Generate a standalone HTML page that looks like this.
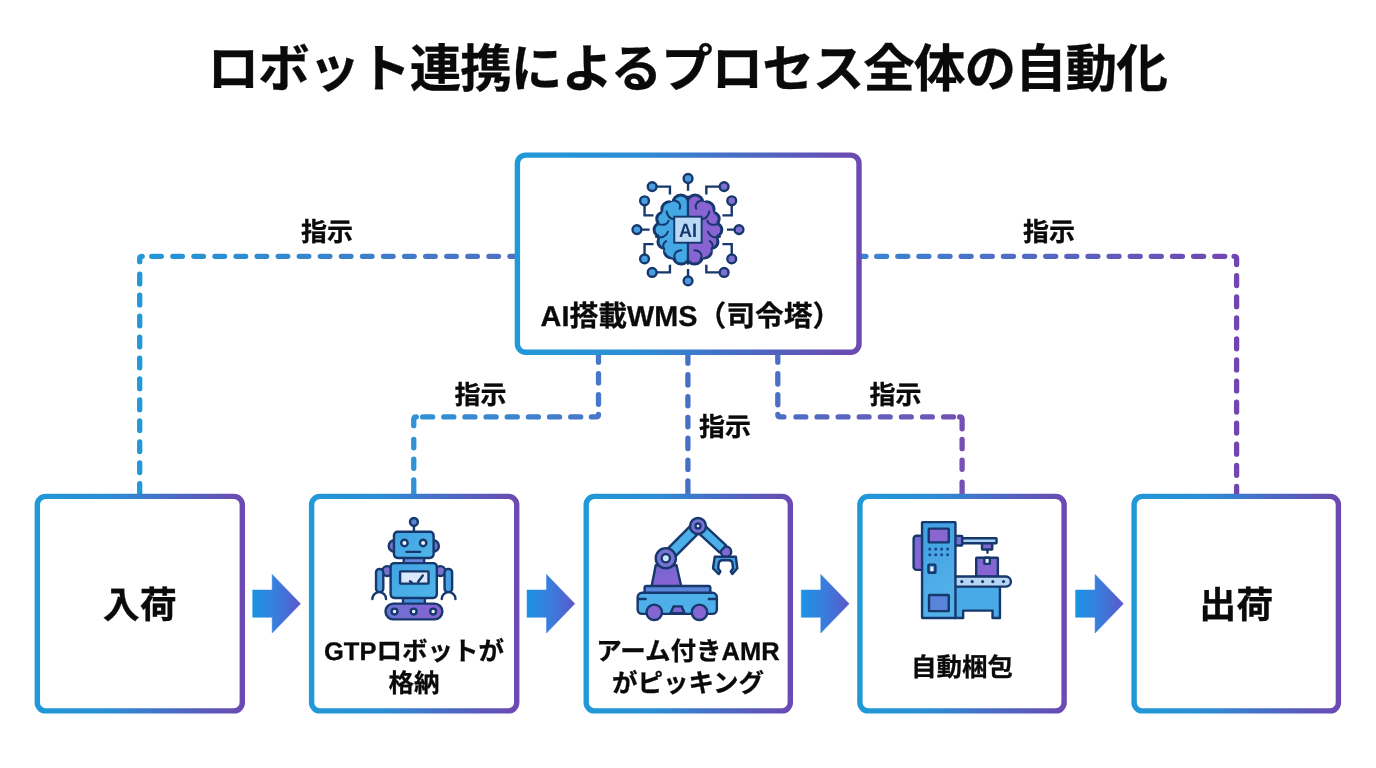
<!DOCTYPE html>
<html lang="ja">
<head>
<meta charset="utf-8">
<title>ロボット連携によるプロセス全体の自動化</title>
<style>
html,body{margin:0;padding:0;background:#ffffff;}
body{width:1376px;height:768px;overflow:hidden;font-family:"Liberation Sans", "Noto Sans CJK JP", sans-serif;}
svg{display:block;will-change:transform;}
svg text{font-family:"Liberation Sans", "Noto Sans CJK JP", sans-serif;font-weight:700;fill:#0a0a0a;stroke:#0a0a0a;stroke-width:0.3px;text-rendering:geometricPrecision;}
</style>
</head>
<body>
<svg width="1376" height="768" viewBox="0 0 1376 768">
<defs>
<linearGradient id="gl1" gradientUnits="userSpaceOnUse" x1="139.6" y1="0" x2="514" y2="0">
<stop offset="0" stop-color="#2298d6"/><stop offset="1" stop-color="#4f6fc2"/></linearGradient>
<linearGradient id="gl2" gradientUnits="userSpaceOnUse" x1="414" y1="0" x2="598.5" y2="0">
<stop offset="0" stop-color="#2f93d6"/><stop offset="1" stop-color="#4777c8"/></linearGradient>
<linearGradient id="gl3" gradientUnits="userSpaceOnUse" x1="680" y1="0" x2="696" y2="0">
<stop offset="0" stop-color="#4471c6"/><stop offset="1" stop-color="#4471c6"/></linearGradient>
<linearGradient id="gl4" gradientUnits="userSpaceOnUse" x1="778" y1="0" x2="962" y2="0">
<stop offset="0" stop-color="#4a6fc6"/><stop offset="1" stop-color="#7650b4"/></linearGradient>
<linearGradient id="gl5" gradientUnits="userSpaceOnUse" x1="861" y1="0" x2="1236.4" y2="0">
<stop offset="0" stop-color="#3a86d2"/><stop offset="1" stop-color="#7246b0"/></linearGradient>
<linearGradient id="gc" gradientUnits="userSpaceOnUse" x1="514.7" y1="0" x2="861.7" y2="0">
<stop offset="0" stop-color="#2099d7"/><stop offset="0.35" stop-color="#2c8dd6"/><stop offset="0.7" stop-color="#4e66c2"/><stop offset="1" stop-color="#6d48b2"/></linearGradient>
<linearGradient id="gb0" gradientUnits="userSpaceOnUse" x1="34.6" y1="0" x2="245.0" y2="0">
<stop offset="0" stop-color="#2099d7"/><stop offset="0.35" stop-color="#2c8dd6"/><stop offset="0.7" stop-color="#4e66c2"/><stop offset="1" stop-color="#6d48b2"/></linearGradient>
<linearGradient id="gb1" gradientUnits="userSpaceOnUse" x1="308.9" y1="0" x2="519.4" y2="0">
<stop offset="0" stop-color="#2099d7"/><stop offset="0.35" stop-color="#2c8dd6"/><stop offset="0.7" stop-color="#4e66c2"/><stop offset="1" stop-color="#6d48b2"/></linearGradient>
<linearGradient id="gb2" gradientUnits="userSpaceOnUse" x1="583.5" y1="0" x2="793.0" y2="0">
<stop offset="0" stop-color="#2099d7"/><stop offset="0.35" stop-color="#2c8dd6"/><stop offset="0.7" stop-color="#4e66c2"/><stop offset="1" stop-color="#6d48b2"/></linearGradient>
<linearGradient id="gb3" gradientUnits="userSpaceOnUse" x1="857.2" y1="0" x2="1066.8" y2="0">
<stop offset="0" stop-color="#2099d7"/><stop offset="0.35" stop-color="#2c8dd6"/><stop offset="0.7" stop-color="#4e66c2"/><stop offset="1" stop-color="#6d48b2"/></linearGradient>
<linearGradient id="gb4" gradientUnits="userSpaceOnUse" x1="1131.4" y1="0" x2="1341.1" y2="0">
<stop offset="0" stop-color="#2099d7"/><stop offset="0.35" stop-color="#2c8dd6"/><stop offset="0.7" stop-color="#4e66c2"/><stop offset="1" stop-color="#6d48b2"/></linearGradient>
<linearGradient id="ga0" gradientUnits="userSpaceOnUse" x1="252.7" y1="0" x2="300.7" y2="0">
<stop offset="0" stop-color="#1b93e4"/><stop offset="0.5" stop-color="#3a7cdc"/><stop offset="1" stop-color="#5a58c9"/></linearGradient>
<linearGradient id="ga1" gradientUnits="userSpaceOnUse" x1="527.0" y1="0" x2="575.0" y2="0">
<stop offset="0" stop-color="#1b93e4"/><stop offset="0.5" stop-color="#3a7cdc"/><stop offset="1" stop-color="#5a58c9"/></linearGradient>
<linearGradient id="ga2" gradientUnits="userSpaceOnUse" x1="801.3" y1="0" x2="849.3" y2="0">
<stop offset="0" stop-color="#1b93e4"/><stop offset="0.5" stop-color="#3a7cdc"/><stop offset="1" stop-color="#5a58c9"/></linearGradient>
<linearGradient id="ga3" gradientUnits="userSpaceOnUse" x1="1075.6000000000001" y1="0" x2="1123.6000000000001" y2="0">
<stop offset="0" stop-color="#1b93e4"/><stop offset="0.5" stop-color="#3a7cdc"/><stop offset="1" stop-color="#5a58c9"/></linearGradient>
<clipPath id="bclL"><rect x="640" y="180" width="47.95" height="100"/></clipPath>
<clipPath id="bclR"><rect x="687.95" y="180" width="60" height="100"/></clipPath>
<linearGradient id="bgL" x1="0" y1="0" x2="1" y2="1"><stop offset="0" stop-color="#55b4ea"/><stop offset="1" stop-color="#3a9ddf"/></linearGradient>
<linearGradient id="bgR" x1="0" y1="0" x2="1" y2="1"><stop offset="0" stop-color="#8068d0"/><stop offset="1" stop-color="#9463d6"/></linearGradient>
<linearGradient id="rbB" x1="0" y1="0" x2="1" y2="1"><stop offset="0" stop-color="#41a2e3"/><stop offset="1" stop-color="#50b6e8"/></linearGradient>
<linearGradient id="rbP" x1="0" y1="0" x2="1" y2="0"><stop offset="0" stop-color="#6a72d2"/><stop offset="1" stop-color="#8b62d2"/></linearGradient>
<linearGradient id="amP" x1="0" y1="0" x2="0" y2="1"><stop offset="0" stop-color="#7468d0"/><stop offset="1" stop-color="#8b62d4"/></linearGradient>
<linearGradient id="pkB" x1="0" y1="0" x2="0.3" y2="1"><stop offset="0" stop-color="#3f9fe1"/><stop offset="1" stop-color="#55b2e9"/></linearGradient>
<linearGradient id="pkP" x1="0" y1="0" x2="0" y2="1"><stop offset="0" stop-color="#7a6ad0"/><stop offset="1" stop-color="#8c62d4"/></linearGradient>
</defs>
<rect x="0" y="0" width="1376" height="768" fill="#ffffff"/>
<path d="M151.75 256.35H161.35M172.82 256.35H182.42M193.89 256.35H203.49M214.96 256.35H224.56M236.03 256.35H245.63M257.10 256.35H266.70M278.17 256.35H287.77M299.24 256.35H308.84M320.31 256.35H329.91M341.38 256.35H350.98M362.45 256.35H372.05M383.52 256.35H393.12M404.59 256.35H414.19M425.66 256.35H435.26M446.73 256.35H456.33M467.80 256.35H477.40M488.87 256.35H498.47M509.94 256.35H515.00M139.70 261.70L139.70 258.85Q139.70 256.35 142.20 256.35L142.20 256.35M139.70 274.25V283.95M139.70 295.20V304.90M139.70 316.15V325.85M139.70 337.10V346.80M139.70 358.05V367.75M139.70 379.00V388.70M139.70 399.95V409.65M139.70 420.90V430.60M139.70 441.85V451.55M139.70 462.80V472.50M139.70 483.75V495.00" stroke="url(#gl1)" stroke-width="5.3" stroke-linecap="round" stroke-linejoin="round" fill="none"/>
<path d="M598.50 355.65V362.15M598.50 373.65V382.95M598.50 394.55V404.25M598.50 414.40L598.50 414.40Q598.50 416.90 596.00 416.90L591.40 416.90M422.65 416.90H432.65M443.80 416.90H453.80M464.95 416.90H474.95M486.10 416.90H496.10M507.25 416.90H517.25M528.40 416.90H538.40M549.55 416.90H559.55M570.70 416.90H580.70M413.75 425.65L413.75 419.40Q413.75 416.90 416.25 416.90L416.25 416.90M413.75 439.35V447.75M413.75 459.15V468.35M413.75 479.95V494.35" stroke="url(#gl2)" stroke-width="5.3" stroke-linecap="round" stroke-linejoin="round" fill="none"/>
<path d="M687.90 355.65V363.15M687.90 374.75V385.05M687.90 396.61V405.85M687.90 417.45V426.75M687.90 438.25V448.60M687.90 460.15V469.45M687.90 480.95V494.35" stroke="url(#gl3)" stroke-width="5.3" stroke-linecap="round" stroke-linejoin="round" fill="none"/>
<path d="M777.80 355.65V362.15M777.80 373.65V384.05M777.80 394.55V404.85M777.80 414.40L777.80 414.40Q777.80 416.90 780.30 416.90L783.85 416.90M795.95 416.90H805.75M817.05 416.90H826.85M838.15 416.90H847.95M859.25 416.90H869.05M880.35 416.90H890.15M901.45 416.90H911.25M922.55 416.90H932.35M943.65 416.90H953.45M962.10 428.85L962.10 419.40Q962.10 416.90 959.60 416.90L959.60 416.90M962.10 439.35V448.65M962.10 460.15V469.35M962.10 482.05V494.35" stroke="url(#gl4)" stroke-width="5.3" stroke-linecap="round" stroke-linejoin="round" fill="none"/>
<path d="M860.65 256.35H865.95M876.65 256.35H886.65M897.78 256.35H907.78M918.91 256.35H928.91M940.04 256.35H950.04M961.17 256.35H971.17M982.30 256.35H992.30M1003.43 256.35H1013.43M1024.56 256.35H1034.56M1045.69 256.35H1055.69M1066.82 256.35H1076.82M1087.95 256.35H1097.95M1109.08 256.35H1119.08M1130.21 256.35H1140.21M1151.34 256.35H1161.34M1172.47 256.35H1182.47M1193.60 256.35H1203.60M1214.73 256.35H1224.73M1236.60 264.60L1236.60 258.85Q1236.60 256.35 1234.10 256.35L1234.10 256.35M1236.60 275.71V285.61M1236.60 296.78V306.68M1236.60 317.85V327.75M1236.60 338.92V348.82M1236.60 359.99V369.89M1236.60 381.06V390.96M1236.60 402.13V412.03M1236.60 423.20V433.10M1236.60 444.27V454.17M1236.60 465.34V475.24M1236.60 486.41V495.00" stroke="url(#gl5)" stroke-width="5.3" stroke-linecap="round" stroke-linejoin="round" fill="none"/>
<rect x="517.40" y="155.10" width="341.60" height="197.20" rx="8.30" fill="#ffffff" stroke="url(#gc)" stroke-width="5.4"/>
<rect x="37.30" y="496.40" width="205.00" height="214.50" rx="8.30" fill="#ffffff" stroke="url(#gb0)" stroke-width="5.4"/>
<rect x="311.60" y="496.40" width="205.10" height="214.50" rx="8.30" fill="#ffffff" stroke="url(#gb1)" stroke-width="5.4"/>
<rect x="586.20" y="496.40" width="204.10" height="214.50" rx="8.30" fill="#ffffff" stroke="url(#gb2)" stroke-width="5.4"/>
<rect x="859.90" y="496.40" width="204.20" height="214.50" rx="8.30" fill="#ffffff" stroke="url(#gb3)" stroke-width="5.4"/>
<rect x="1134.10" y="496.40" width="204.30" height="214.50" rx="8.30" fill="#ffffff" stroke="url(#gb4)" stroke-width="5.4"/>
<path d="M252.7 590 H272.2 V574.4 L300.5 603.7 L272.2 633 V617.3 H252.7 Z" fill="url(#ga0)" stroke="url(#ga0)" stroke-width="0.5" stroke-linejoin="miter"/>
<path d="M527.0 590 H546.5 V574.4 L574.8 603.7 L546.5 633 V617.3 H527.0 Z" fill="url(#ga1)" stroke="url(#ga1)" stroke-width="0.5" stroke-linejoin="miter"/>
<path d="M801.3 590 H820.8 V574.4 L849.1 603.7 L820.8 633 V617.3 H801.3 Z" fill="url(#ga2)" stroke="url(#ga2)" stroke-width="0.5" stroke-linejoin="miter"/>
<path d="M1075.6 590 H1095.1 V574.4 L1123.4 603.7 L1095.1 633 V617.3 H1075.6 Z" fill="url(#ga3)" stroke="url(#ga3)" stroke-width="0.5" stroke-linejoin="miter"/>
<text x="687.1" y="87.0" font-size="51.7" text-anchor="middle" letter-spacing="-1.12">ロボット連携によるプロセス全体の自動化</text>
<text x="326.9" y="240.9" font-size="26" text-anchor="middle" >指示</text>
<text x="1048.9" y="240.9" font-size="26" text-anchor="middle" >指示</text>
<text x="480.4" y="403.9" font-size="26" text-anchor="middle" >指示</text>
<text x="895.4" y="403.9" font-size="26" text-anchor="middle" >指示</text>
<text x="725.1" y="435.9" font-size="26" text-anchor="middle" >指示</text>
<text x="691" y="325.5" font-size="28.8" text-anchor="middle" >AI搭載WMS（司令塔）</text>
<text x="139.7" y="618" font-size="37" text-anchor="middle" >入荷</text>
<text x="1236.3" y="618" font-size="37" text-anchor="middle" >出荷</text>
<text x="414.0" y="660.3" font-size="25.5" text-anchor="middle" >GTPロボットが</text>
<text x="414.0" y="691.8" font-size="25.5" text-anchor="middle" >格納</text>
<text x="688" y="660.3" font-size="25.5" text-anchor="middle" >アーム付きAMR</text>
<text x="688" y="691.8" font-size="25.5" text-anchor="middle" >がピッキング</text>
<text x="962" y="676" font-size="25.5" text-anchor="middle" >自動梱包</text>
<g><path d="M688.05 178.46L688.05 190.65M688.05 280.88L688.05 269.03M636.93 229.59L649.63 229.59M739.01 229.59L726.99 229.59M652.16 186.59L669.94 186.59L669.94 194.55M644.55 200.81L644.55 215.37L653.52 215.37M724.11 186.59L706.34 186.59L706.34 194.55M731.73 200.81L731.73 215.37L722.42 215.37M644.55 258.88L644.55 244.15L653.52 244.15M652.16 272.42L669.94 272.42L669.94 264.80M731.73 258.88L731.73 244.15L722.42 244.15M724.11 272.42L706.34 272.42L706.34 264.80" fill="none" stroke="#16386d" stroke-width="2.4" stroke-linejoin="miter"/><circle cx="688.05" cy="178.46" r="4.4" fill="#4d9bdc" stroke="#16386d" stroke-width="2.4"/><circle cx="688.05" cy="280.88" r="4.4" fill="#4d9bdc" stroke="#16386d" stroke-width="2.4"/><circle cx="636.93" cy="229.59" r="4.4" fill="#4a9fe0" stroke="#16386d" stroke-width="2.4"/><circle cx="739.01" cy="229.59" r="4.4" fill="#7f6fd2" stroke="#16386d" stroke-width="2.4"/><circle cx="652.16" cy="186.59" r="4.4" fill="#4a9fe0" stroke="#16386d" stroke-width="2.4"/><circle cx="644.55" cy="200.81" r="4.4" fill="#4a9fe0" stroke="#16386d" stroke-width="2.4"/><circle cx="724.11" cy="186.59" r="4.4" fill="#7f6fd2" stroke="#16386d" stroke-width="2.4"/><circle cx="731.73" cy="200.81" r="4.4" fill="#7f6fd2" stroke="#16386d" stroke-width="2.4"/><circle cx="644.55" cy="258.88" r="4.4" fill="#4a9fe0" stroke="#16386d" stroke-width="2.4"/><circle cx="652.16" cy="272.42" r="4.4" fill="#4a9fe0" stroke="#16386d" stroke-width="2.4"/><circle cx="731.73" cy="258.88" r="4.4" fill="#7f6fd2" stroke="#16386d" stroke-width="2.4"/><circle cx="724.11" cy="272.42" r="4.4" fill="#7f6fd2" stroke="#16386d" stroke-width="2.4"/><g clip-path="url(#bclL)"><circle cx="680.83" cy="202.99" r="7.43" fill="#44a8e4" stroke="#16386d" stroke-width="4.0"/><circle cx="669.01" cy="209.01" r="6.66" fill="#44a8e4" stroke="#16386d" stroke-width="4.0"/><circle cx="662.99" cy="218.86" r="5.79" fill="#44a8e4" stroke="#16386d" stroke-width="4.0"/><circle cx="660.80" cy="229.81" r="6.22" fill="#44a8e4" stroke="#16386d" stroke-width="4.0"/><circle cx="664.63" cy="241.63" r="6.22" fill="#44a8e4" stroke="#16386d" stroke-width="4.0"/><circle cx="671.20" cy="251.26" r="6.22" fill="#44a8e4" stroke="#16386d" stroke-width="4.0"/><circle cx="681.27" cy="256.07" r="7.54" fill="#44a8e4" stroke="#16386d" stroke-width="4.0"/><circle cx="680.83" cy="202.99" r="6.43" fill="#44a8e4"/><circle cx="669.01" cy="209.01" r="5.66" fill="#44a8e4"/><circle cx="662.99" cy="218.86" r="4.79" fill="#44a8e4"/><circle cx="660.80" cy="229.81" r="5.22" fill="#44a8e4"/><circle cx="664.63" cy="241.63" r="5.22" fill="#44a8e4"/><circle cx="671.20" cy="251.26" r="5.22" fill="#44a8e4"/><circle cx="681.27" cy="256.07" r="6.54" fill="#44a8e4"/><ellipse cx="675.36" cy="229.59" rx="16.42" ry="28.45" fill="#44a8e4"/><rect x="680.83" y="201.68" width="7.22" height="56.36" fill="#44a8e4"/><path d="M673.39 200.26C679.74 200.91 680.83 205.51 679.74 208.79M666.60 211.53C667.48 216.67 670.44 218.86 674.05 219.30M658.07 224.11C663.32 225.76 667.48 224.66 668.57 220.83M655.88 236.70C661.68 238.56 666.60 236.15 667.92 231.78M664.42 249.50C662.23 246.00 663.32 242.72 666.06 241.08M681.38 250.16C675.36 250.38 672.95 254.76 675.36 259.68" fill="none" stroke="#16386d" stroke-width="2.0" stroke-linecap="round"/></g><g clip-path="url(#bclR)"><circle cx="695.06" cy="202.99" r="7.43" fill="#8864d2" stroke="#16386d" stroke-width="4.0"/><circle cx="706.88" cy="209.01" r="6.66" fill="#8864d2" stroke="#16386d" stroke-width="4.0"/><circle cx="712.90" cy="218.86" r="5.79" fill="#8864d2" stroke="#16386d" stroke-width="4.0"/><circle cx="715.09" cy="229.81" r="6.22" fill="#8864d2" stroke="#16386d" stroke-width="4.0"/><circle cx="711.26" cy="241.63" r="6.22" fill="#8864d2" stroke="#16386d" stroke-width="4.0"/><circle cx="704.69" cy="251.26" r="6.22" fill="#8864d2" stroke="#16386d" stroke-width="4.0"/><circle cx="694.62" cy="256.07" r="7.54" fill="#8864d2" stroke="#16386d" stroke-width="4.0"/><circle cx="695.06" cy="202.99" r="6.43" fill="#8864d2"/><circle cx="706.88" cy="209.01" r="5.66" fill="#8864d2"/><circle cx="712.90" cy="218.86" r="4.79" fill="#8864d2"/><circle cx="715.09" cy="229.81" r="5.22" fill="#8864d2"/><circle cx="711.26" cy="241.63" r="5.22" fill="#8864d2"/><circle cx="704.69" cy="251.26" r="5.22" fill="#8864d2"/><circle cx="694.62" cy="256.07" r="6.54" fill="#8864d2"/><ellipse cx="700.53" cy="229.59" rx="16.42" ry="28.45" fill="#8864d2"/><rect x="687.84" y="201.68" width="7.22" height="56.36" fill="#8864d2"/><path d="M702.50 200.26C696.15 200.91 695.06 205.51 696.15 208.79M709.29 211.53C708.41 216.67 705.46 218.86 701.84 219.30M717.82 224.11C712.57 225.76 708.41 224.66 707.32 220.83M720.01 236.70C714.21 238.56 709.29 236.15 707.97 231.78M711.47 249.50C713.66 246.00 712.57 242.72 709.83 241.08M694.51 250.16C700.53 250.38 702.94 254.76 700.53 259.68" fill="none" stroke="#16386d" stroke-width="2.0" stroke-linecap="round"/></g><path d="M687.95 196.54V263.73" stroke="#16386d" stroke-width="2.3" fill="none" stroke-linecap="round"/><rect x="674.27" y="216.67" width="27.36" height="26.05" fill="#b9d9f5" stroke="#16386d" stroke-width="1.9"/><text x="688.05" y="236.70" font-size="19.4" text-anchor="middle" style="fill:#16386d;stroke:none" textLength="18" lengthAdjust="spacingAndGlyphs">AI</text></g>
<g><path d="M413.93 525.92V531.46" fill="none" stroke="#16386d" stroke-width="2.4" stroke-linejoin="round"/><circle cx="413.93" cy="521.99" r="3.94" fill="#5c80d2" stroke="#16386d" stroke-width="2.4" stroke-linejoin="round" /><circle cx="394.54" cy="546.04" r="5.83" fill="#7a70d0" stroke="#16386d" stroke-width="2.4" stroke-linejoin="round" /><circle cx="433.03" cy="546.04" r="5.83" fill="#7a70d0" stroke="#16386d" stroke-width="2.4" stroke-linejoin="round" /><circle cx="387.25" cy="571.12" r="4.96" fill="#7a70d0" stroke="#16386d" stroke-width="2.4" stroke-linejoin="round" /><circle cx="440.32" cy="571.12" r="4.96" fill="#7a70d0" stroke="#16386d" stroke-width="2.4" stroke-linejoin="round" /><rect x="376.02" y="568.93" width="7.29" height="23.33" rx="3.50" fill="#4d9fe2" stroke="#16386d" stroke-width="2.4" stroke-linejoin="round" /><rect x="444.55" y="568.93" width="7.58" height="23.33" rx="3.50" fill="#4d9fe2" stroke="#16386d" stroke-width="2.4" stroke-linejoin="round" /><path d="M372.37 598.97A6.85 6.85 0 0 1 386.08 598.97" fill="#ffffff" stroke="#16386d" stroke-width="2.4" stroke-linecap="round"/><path d="M441.77 598.97A6.85 6.85 0 0 1 455.48 598.97" fill="#ffffff" stroke="#16386d" stroke-width="2.4" stroke-linecap="round"/><rect x="403.72" y="556.54" width="20.41" height="7.29" rx="0.00" fill="#6a86dc" stroke="#16386d" stroke-width="2.4" stroke-linejoin="round" /><rect x="402.99" y="595.91" width="21.87" height="8.75" rx="0.00" fill="#4a90e0" stroke="#16386d" stroke-width="2.4" stroke-linejoin="round" /><rect x="393.95" y="531.75" width="39.66" height="26.24" rx="3.65" fill="url(#rbB)" stroke="#16386d" stroke-width="2.4" stroke-linejoin="round" /><circle cx="404.45" cy="542.98" r="3.21" fill="#f2f7fd" stroke="#16386d" stroke-width="2.4" stroke-linejoin="round" /><circle cx="423.11" cy="542.98" r="3.21" fill="#f2f7fd" stroke="#16386d" stroke-width="2.4" stroke-linejoin="round" /><path d="M406.49 551.87H420.20" fill="none" stroke="#16386d" stroke-width="2.4" stroke-linecap="round"/><rect x="390.60" y="563.10" width="46.22" height="34.85" rx="3.65" fill="url(#rbB)" stroke="#16386d" stroke-width="2.4" stroke-linejoin="round" /><rect x="400.08" y="571.41" width="28.43" height="12.25" rx="0.58" fill="#dbe8fb" stroke="#16386d" stroke-width="2.4" stroke-linejoin="round" /><path d="M409.99 581.33L411.74 582.20M418.01 581.91L422.82 575.49" fill="none" stroke="#16386d" stroke-width="2.4" stroke-linecap="round"/><rect x="385.50" y="603.63" width="56.86" height="15.75" rx="7.87" fill="url(#rbP)" stroke="#16386d" stroke-width="2.4" stroke-linejoin="round" /><circle cx="394.54" cy="611.51" r="2.92" fill="#eef3fc" stroke="#16386d" stroke-width="2.4" stroke-linejoin="round" /><circle cx="413.64" cy="611.51" r="2.92" fill="#eef3fc" stroke="#16386d" stroke-width="2.4" stroke-linejoin="round" /><circle cx="433.17" cy="611.51" r="2.92" fill="#eef3fc" stroke="#16386d" stroke-width="2.4" stroke-linejoin="round" /></g>
<g><circle cx="726.05" cy="551.68" r="5.19" fill="#8468d2" stroke="#16386d" stroke-width="2.4" stroke-linejoin="round" /><path d="M694.69 529.62L719.47 552.47L726.11 545.27L701.33 522.42Z" fill="#4cb0e8" stroke="#16386d" stroke-width="2.4" stroke-linejoin="round" /><path d="M714.78 556.73H735.84L737.32 568.30L732.43 574.08L730.80 571.56L733.02 568.45L732.58 564.15Q732.28 560.29 728.72 560.29H722.49Q718.93 560.29 718.63 564.15L718.19 568.45L720.41 571.56L718.78 574.08L713.00 568.30Z" fill="#4a9fe2" stroke="#16386d" stroke-width="2.4" stroke-linejoin="round"/><path d="M669.70 562.09L701.89 529.90L694.13 522.14L661.94 554.33Z" fill="#4cb0e8" stroke="#16386d" stroke-width="2.4" stroke-linejoin="round" /><path d="M651.58 586.40L655.74 565.18L676.50 565.18L681.25 586.40Z" fill="url(#amP)" stroke="#16386d" stroke-width="2.4" stroke-linejoin="round" /><circle cx="698.01" cy="526.02" r="8.01" fill="#7a72d2" stroke="#16386d" stroke-width="2.4" stroke-linejoin="round" /><circle cx="698.01" cy="526.02" r="2.52" fill="#f4f8fd" stroke="#16386d" stroke-width="2.4" stroke-linejoin="round" /><circle cx="665.82" cy="558.21" r="10.09" fill="#7a72d2" stroke="#16386d" stroke-width="2.4" stroke-linejoin="round" /><circle cx="665.82" cy="558.21" r="4.15" fill="#cfe4f8" stroke="#16386d" stroke-width="2.4" stroke-linejoin="round" /><rect x="644.61" y="585.95" width="65.72" height="9.35" rx="1.78" fill="#5a86da" stroke="#16386d" stroke-width="2.4" stroke-linejoin="round" /><rect x="637.64" y="592.78" width="79.22" height="21.06" rx="4.45" fill="#4fb0e9" stroke="#16386d" stroke-width="2.4" stroke-linejoin="round" /><path d="M639.12 599.01H645.65M708.84 599.01H715.37" fill="none" stroke="#16386d" stroke-width="2.4" stroke-linecap="round"/><path d="M670.57 613.25L673.54 606.42L681.70 606.42L684.51 613.25Z" fill="#7f66d0" stroke="#16386d" stroke-width="2.4" stroke-linejoin="round" /><circle cx="654.25" cy="612.36" r="7.71" fill="#8666d2" stroke="#16386d" stroke-width="2.4" stroke-linejoin="round" /><circle cx="699.50" cy="612.36" r="7.71" fill="#8666d2" stroke="#16386d" stroke-width="2.4" stroke-linejoin="round" /></g>
<g><rect x="913.60" y="535.74" width="10.68" height="34.12" rx="2.97" fill="url(#pkP)" stroke="#16386d" stroke-width="2.4" stroke-linejoin="round" /><rect x="953.95" y="535.88" width="8.31" height="9.64" rx="0.74" fill="#6e70d0" stroke="#16386d" stroke-width="2.4" stroke-linejoin="round" /><rect x="962.26" y="538.26" width="34.27" height="5.04" rx="0.45" fill="#a9d1f3" stroke="#16386d" stroke-width="2.4" stroke-linejoin="round" /><rect x="981.99" y="543.30" width="10.24" height="6.23" rx="0.45" fill="#7a68d0" stroke="#16386d" stroke-width="2.4" stroke-linejoin="round" /><path d="M987.48 550.27V552.65" fill="none" stroke="#16386d" stroke-width="2.4" stroke-linecap="round"/><rect x="976.21" y="557.69" width="21.66" height="18.99" rx="0.45" fill="url(#pkP)" stroke="#16386d" stroke-width="2.4" stroke-linejoin="round" /><rect x="984.36" y="557.69" width="5.49" height="6.23" rx="0.45" fill="#eaf2fc" stroke="#16386d" stroke-width="2.4" stroke-linejoin="round" /><path d="M954.70 586.17L999.94 586.17L999.94 618.07L992.52 618.07L992.52 610.65L963.15 610.65L963.15 618.07L954.70 618.07Z" fill="#4aa9e7" stroke="#16386d" stroke-width="2.4" stroke-linejoin="round" /><path d="M954.70 576.53H1005.87A5.04 5.04 0 0 1 1005.87 586.62H954.70Z" fill="#b6d6f4" stroke="#16386d" stroke-width="2.4" stroke-linejoin="round"/><circle cx="961.82" cy="581.57" r="1.56" fill="#16386d"/><circle cx="972.20" cy="581.57" r="1.56" fill="#16386d"/><circle cx="982.58" cy="581.57" r="1.56" fill="#16386d"/><circle cx="992.82" cy="581.57" r="1.56" fill="#16386d"/><circle cx="1003.50" cy="581.57" r="1.56" fill="#16386d"/><rect x="922.06" y="522.09" width="33.38" height="95.98" rx="0.45" fill="url(#pkB)" stroke="#16386d" stroke-width="2.4" stroke-linejoin="round" /><rect x="928.74" y="528.61" width="20.03" height="13.80" rx="0.45" fill="#8a66d3" stroke="#16386d" stroke-width="2.4" stroke-linejoin="round" /><circle cx="929.77" cy="549.09" r="1.56" fill="#1b4a8c"/><circle cx="935.71" cy="549.09" r="1.56" fill="#1b4a8c"/><circle cx="941.64" cy="549.09" r="1.56" fill="#1b4a8c"/><circle cx="947.57" cy="549.09" r="1.56" fill="#1b4a8c"/><circle cx="929.77" cy="554.72" r="1.56" fill="#1b4a8c"/><circle cx="935.71" cy="554.72" r="1.56" fill="#1b4a8c"/><circle cx="941.64" cy="554.72" r="1.56" fill="#1b4a8c"/><circle cx="947.57" cy="554.72" r="1.56" fill="#1b4a8c"/><rect x="928.44" y="564.66" width="6.97" height="8.16" rx="0.89" fill="#4a9fe2" stroke="#16386d" stroke-width="2.4" stroke-linejoin="round" /><rect x="930.52" y="566.89" width="2.67" height="4.15" fill="#eef4fc"/><rect x="929.03" y="595.07" width="19.73" height="16.02" rx="0.45" fill="#5a84da" stroke="#16386d" stroke-width="2.4" stroke-linejoin="round" /></g>
</svg>
</body>
</html>
